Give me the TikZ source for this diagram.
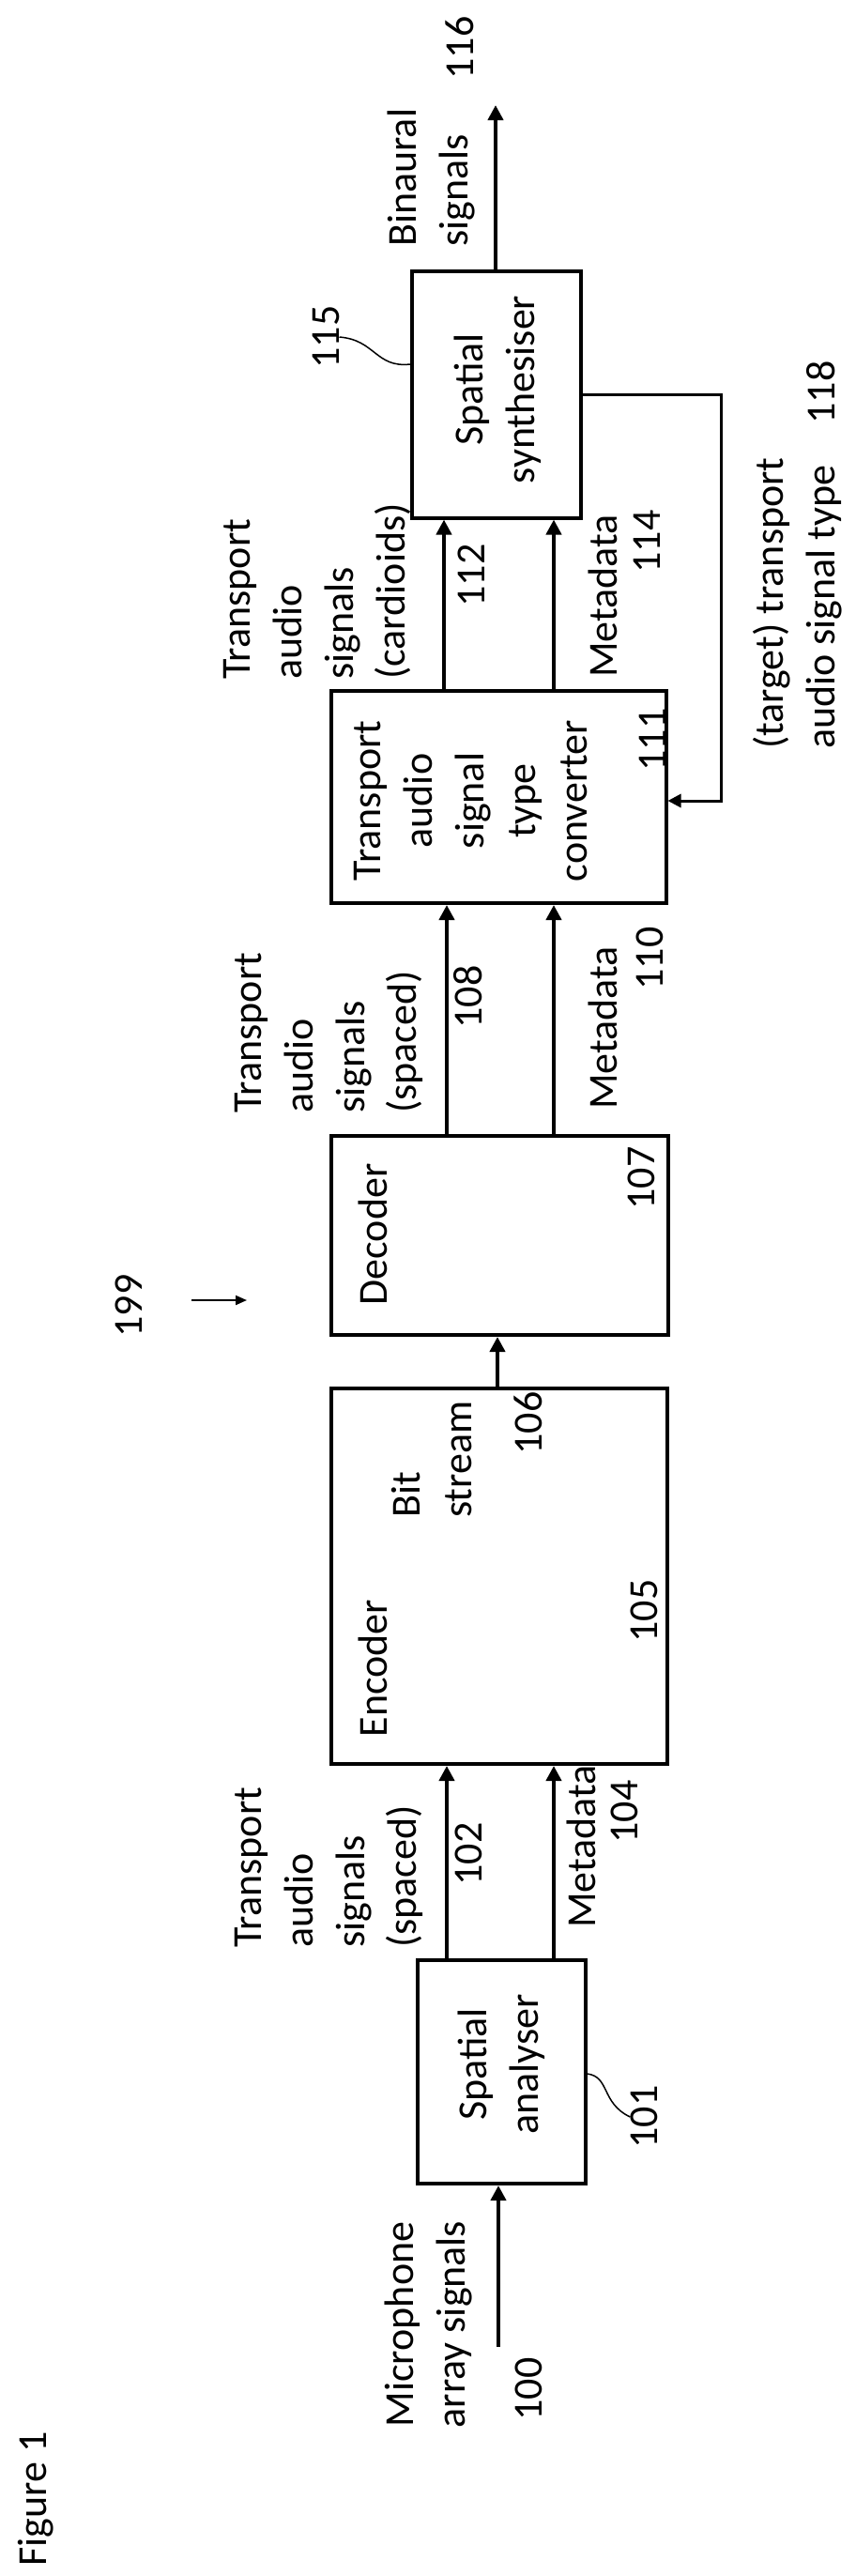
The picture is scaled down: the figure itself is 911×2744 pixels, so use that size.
\documentclass[tikz,border=0pt]{standalone}
\usepackage{fontspec}
\setmainfont{Carlito}
\usetikzlibrary{arrows.meta}
\begin{document}
\begin{tikzpicture}[x=1pt,y=-1pt,
  box/.style={draw,line width=4pt,inner sep=0pt},
  lbl/.style={rotate=90,font=\fontsize{44}{55}\selectfont,inner sep=0pt},
  arr/.style={line width=4pt,-{Triangle[width=16pt,length=16pt]}},
  thin/.style={line width=1.5pt}]
\useasboundingbox (0,0) rectangle (911,2744);
% boxes
\node[box,minimum width=179pt,minimum height=238pt] (ana) at (534,2207) {};
\node[box,minimum width=358pt,minimum height=400pt] (enc) at (532,1679) {};
\node[box,minimum width=359pt,minimum height=212pt] (dec) at (532,1316) {};
\node[box,minimum width=357pt,minimum height=226pt] (conv) at (531,849) {};
\node[box,minimum width=180pt,minimum height=263pt] (syn) at (529,420) {};
% box texts
\node[lbl,align=center] (tana) at (534,2199) {Spatial\\analyser};
\node[lbl] (tenc) at (397,1777) {Encoder};
\node[lbl] (n105) at (686,1716) {105};
\node[lbl] (tdec) at (397,1315) {Decoder};
\node[lbl] (n107) at (683,1255) {107};
\node[lbl,align=center] (tconv) at (502,853) {Transport\\audio\\signal\\type\\converter};
\node[lbl] (n111) at (695,788) {111};
\node[lbl,align=center] (tsyn) at (530,415) {Spatial\\synthesiser};
% input
\coordinate (in) at (531,2500);
\draw[arr] (in) -- (ana.south -| in);
\node[lbl,align=center] (tmic) at (457,2476) {Microphone\\array signals};
\node[lbl] (n100) at (563,2545) {100};
\node[lbl] (n101) at (686,2255) {101};
\draw[thin] (ana.east |- 0,2209) .. controls (650,2212) and (640,2240) .. (n101.north);
% analyser -> encoder
\coordinate (a1) at (476,0); \coordinate (a2) at (590,0);
\draw[arr] (ana.north -| a1) -- (enc.south -| a1);
\draw[arr] (ana.north -| a2) -- (enc.south -| a2);
\node[lbl,align=left,anchor=west] (tsp1) at (350,2075) {Transport\\audio\\signals\\(spaced)};
\node[lbl] (n102) at (499,1975) {102};
\node[lbl] (tmd1) at (619,1967) {Metadata};
\node[lbl] (n104) at (665,1930) {104};
% encoder -> decoder
\coordinate (b1) at (530,0);
\draw[arr] (enc.north -| b1) -- (dec.south -| b1);
\node[lbl,align=left,anchor=west] (tbit) at (460,1617) {Bit\\stream};
\node[lbl] (n106) at (563,1516) {106};
% 199
\node[lbl] (n199) at (137,1391) {199};
\coordinate (p199a) at (204,1385); \coordinate (p199b) at (263,1385);
\draw[line width=2pt,-{Triangle[width=10pt,length=12pt]}] (p199a) -- (p199b);
% decoder -> converter
\draw[arr] (dec.north -| a1) -- (conv.south -| a1);
\draw[arr] (dec.north -| a2) -- (conv.south -| a2);
\node[lbl,align=left,anchor=west] (tsp2) at (350,1186) {Transport\\audio\\signals\\(spaced)};
\node[lbl] (n108) at (499,1062) {108};
\node[lbl] (tmd2) at (642,1095) {Metadata};
\node[lbl] (n110) at (692,1021) {110};
% converter -> synth
\coordinate (c1) at (473,0);
\draw[arr] (conv.north -| c1) -- (syn.south -| c1);
\draw[arr] (conv.north -| a2) -- (syn.south -| a2);
\node[lbl,align=left,anchor=west] (tcar) at (338,724) {Transport\\audio\\signals\\(cardioids)};
\node[lbl] (n112) at (502,613) {112};
\node[lbl] (tmd3) at (642,635) {Metadata};
\node[lbl] (n114) at (689,577) {114};
% synth output
\coordinate (out) at (528,112);
\draw[arr] (syn.north -| out) -- (out);
\node[lbl,align=left,anchor=west] (tbin) at (460,263) {Binaural\\signals};
\node[lbl] (n116) at (490,51) {116};
\node[lbl] (n115) at (347,359) {115};
\draw[thin] (n115.south) .. controls (400,362) and (400,392) .. (syn.west |- 0,388);
% feedback
\coordinate (fb1) at (768,420); \coordinate (fb2) at (768,853);
\draw[line width=3pt,-{Triangle[width=14pt,length=14pt]}] (syn.east |- fb1) -- (fb1) -- (fb2) -- (conv.east |- fb2);
\node[lbl,align=left,anchor=west] (ttar) at (850,798) {(target) transport\\audio signal type\quad 118};
% figure label
\node[lbl] (fig) at (38,2662) {Figure 1};
\end{tikzpicture}
\end{document}
